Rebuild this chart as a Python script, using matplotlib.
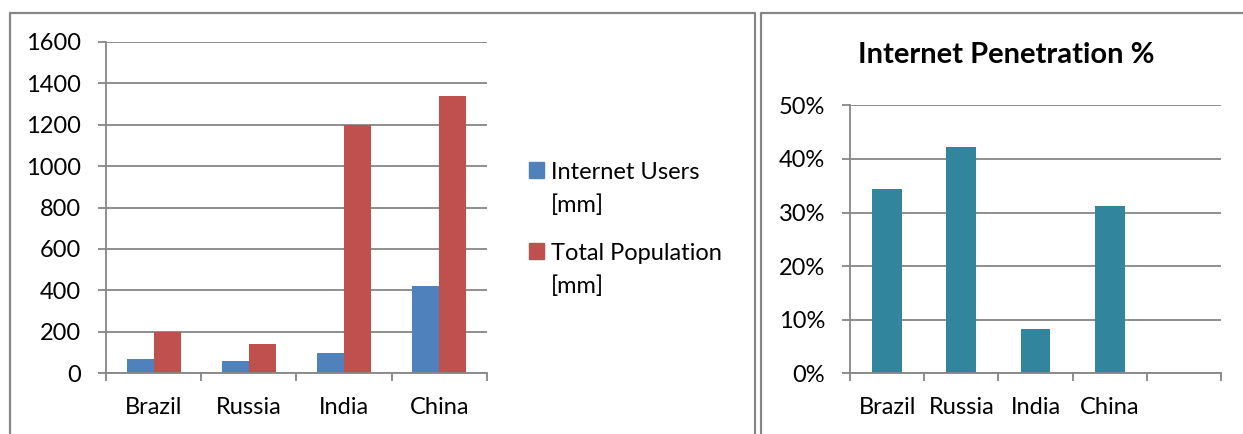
import matplotlib
matplotlib.use('Agg')
from matplotlib import pyplot as plt
from matplotlib.patches import Patch, Rectangle
from matplotlib.lines import Line2D
from matplotlib.legend_handler import HandlerPatch
import numpy as np

plt.rcParams['font.family'] = ['Lato', 'DejaVu Sans']

# Datos
paises = ['Brazil', 'Russia', 'India', 'China']
usuarios_internet = [66, 58, 98, 419]
poblacion_total = [197, 140, 1200, 1340]
penetracion = [0.344, 0.423, 0.083, 0.313]
n_cat_derecha = 5  # el gráfico de la derecha tiene una categoría vacía al final

azul = '#4F81BD'
rojo = '#C0504D'
verde_azulado = '#31859C'
gris = '#868686'

W, H = 1243, 434
fig = plt.figure(figsize=(W / 100, H / 100), dpi=100)
fs = 17


def px(x0, y0, x1, y1):
    return [x0 / W, 1 - y1 / H, (x1 - x0) / W, (y1 - y0) / H]


def estilo_ejes(ax):
    for lado in ['top', 'right']:
        ax.spines[lado].set_visible(False)
    for lado in ['left', 'bottom']:
        ax.spines[lado].set_color(gris)
        ax.spines[lado].set_linewidth(1.3)
    ax.yaxis.grid(True, color=gris, linewidth=1.3)
    ax.set_axisbelow(True)
    ax.tick_params(axis='y', which='major', length=6, width=1.3, color=gris,
                   labelsize=fs, pad=12)
    ax.tick_params(axis='x', which='major', length=0, labelsize=fs, pad=17)
    ax.tick_params(axis='x', which='minor', length=6, width=1.3, color=gris)


# --- Gráfico izquierdo: barras agrupadas ---
ax1 = fig.add_axes(px(106, 42, 487, 373))
x = np.arange(len(paises))
ancho = 0.283
ax1.bar(x - ancho / 2, usuarios_internet, ancho, color=azul)
ax1.bar(x + ancho / 2, poblacion_total, ancho, color=rojo)
ax1.set_xlim(-0.5, len(paises) - 0.5)
ax1.set_ylim(0, 1600)
ax1.set_yticks(np.arange(0, 1601, 200))
ax1.set_xticks(x)
ax1.set_xticklabels(paises)
ax1.set_xticks(np.arange(-0.5, len(paises)), minor=True)
estilo_ejes(ax1)


# el cuadrado de la leyenda va a la altura de la primera línea
def cuadrado_arriba(legend, orig_handle, xdescent, ydescent, width, height, fontsize):
    return Rectangle((-xdescent, -ydescent + 14), width, height)


manijas = [Patch(color=azul), Patch(color=rojo)]
etiquetas = ['Internet Users\n[mm]', 'Total Population\n[mm]']
leg = fig.legend(manijas, etiquetas, loc='upper left',
                 bbox_to_anchor=(529 / W, 1 - 162 / H), frameon=False,
                 fontsize=fs, handlelength=0.64, handleheight=0.66,
                 handletextpad=0.3, labelspacing=1.18, borderpad=0, borderaxespad=0,
                 handler_map={Patch: HandlerPatch(patch_func=cuadrado_arriba)})
for t in leg.get_texts():
    t.set_linespacing(1.62)

# --- Gráfico derecho: penetración ---
ax2 = fig.add_axes(px(850, 105.3, 1221, 373.3))
x2 = np.arange(len(paises))
ax2.bar(x2, penetracion, 0.4, color=verde_azulado)
ax2.set_xlim(-0.5, n_cat_derecha - 0.5)
ax2.set_ylim(0, 0.5)
ax2.set_yticks(np.arange(0, 0.51, 0.1))
ax2.set_yticklabels([f'{int(round(v * 100))}%' for v in np.arange(0, 0.51, 0.1)])
ax2.set_xticks(x2)
ax2.set_xticklabels(paises)
ax2.set_xticks(np.arange(-0.5, n_cat_derecha), minor=True)
estilo_ejes(ax2)

fig.text(1006 / W, 1 - 55 / H, 'Internet Penetration %', ha='center', va='center',
         fontsize=21, fontweight='bold')

# Marcos de los paneles
def linea(xs, ys):
    fig.add_artist(Line2D([v / W for v in xs], [1 - v / H for v in ys],
                          color=gris, linewidth=1.6, transform=fig.transFigure))

linea([10, 10, 755, 755], [H + 2, 13, 13, H + 2])
linea([761, 761, W + 2], [H + 2, 13, 13])

fig.savefig('out.png', dpi=100)
